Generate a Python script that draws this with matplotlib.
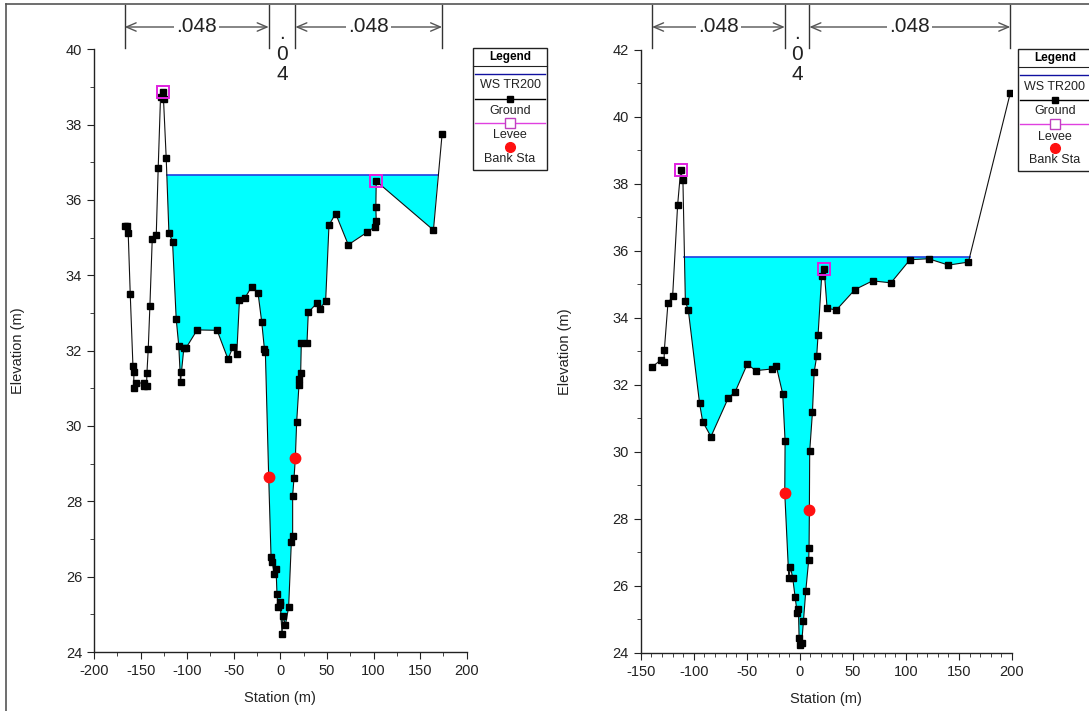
import matplotlib
matplotlib.use('Agg')
import matplotlib.pyplot as plt
import numpy as np
from matplotlib.lines import Line2D
from matplotlib.patches import Rectangle
from matplotlib.transforms import blended_transform_factory
from matplotlib.ticker import MultipleLocator

plt.rcParams['font.family'] = ['Liberation Sans', 'DejaVu Sans']
plt.rcParams['axes.unicode_minus'] = False

# ---- left cross section
left_sta = [-167.1, -164.3, -163.3, -161.1, -158.2, -157.1, -157.5, -154.6, -146.4, -146.4,
            -143.6, -143.2, -141.8, -140.0, -137.5, -133.2, -131.1, -128.6, -126.1, -125.4,
            -122.5, -119.6, -115.7, -111.8, -109.0, -107.1, -106.1, -103.6, -101.5, -89.3,
            -67.9, -56.1, -50.8, -46.8, -43.9, -38.2, -30.7, -23.9, -20.0, -17.1,
            -16.1, -12.5, -10.0, -8.9, -6.4, -4.6, -3.6, -2.5, -0.7, 0.0,
            1.8, 2.9, 5.4, 8.9, 11.8, 13.2, 13.2, 14.7, 16.1, 17.5,
            20.0, 20.4, 21.8, 22.5, 28.6, 30.0, 39.3, 42.1, 48.6, 52.2,
            59.3, 72.9, 92.9, 101.4, 102.9, 102.5, 102.9, 164.3, 173.6]
left_elev = [35.31, 35.31, 35.13, 33.50, 31.59, 31.44, 31.00, 31.13, 31.15, 31.07,
             31.07, 31.40, 32.04, 33.19, 34.96, 35.06, 36.85, 38.74, 38.87, 38.67,
             37.11, 35.13, 34.89, 32.85, 32.12, 31.18, 31.44, 32.06, 32.06, 32.55,
             32.54, 31.77, 32.11, 31.90, 33.34, 33.39, 33.70, 33.52, 32.76, 32.04,
             31.97, 28.64, 26.53, 26.40, 26.07, 26.20, 25.53, 25.19, 25.34, 25.24,
             24.48, 24.96, 24.71, 25.19, 26.92, 27.09, 28.15, 28.63, 29.15, 30.10,
             31.09, 31.24, 31.40, 32.21, 32.21, 33.02, 33.26, 33.11, 33.31, 35.33,
             35.64, 34.81, 35.14, 35.29, 35.45, 35.81, 36.50, 35.20, 37.75]
left_ws = 36.66
left_ws_sta = [-121.8, 169.0]
left_levee_sta = [-126.1, 102.9]
left_levee_elev = [38.87, 36.50]
left_bank_sta = [-12.5, 16.1]
left_bank_elev = [28.64, 29.15]

# ---- right cross section
right_sta = [-139.3, -130.9, -128.0, -127.7, -124.3, -119.9, -115.2, -112.3, -110.2, -107.9,
             -105.1, -94.5, -91.6, -83.8, -67.5, -60.9, -49.6, -41.5, -26.1, -22.3,
             -16.1, -13.9, -14.2, -10.4, -8.8, -6.7, -4.4, -2.5, -1.3, -0.7,
             -0.1, 1.8, 3.4, 5.6, 8.4, 8.7, 9.0, 9.3, 11.9, 13.5,
             15.9, 17.2, 20.6, 22.9, 25.7, 34.4, 52.0, 68.6, 85.9, 103.8,
             121.3, 140.1, 158.9, 198.4]
right_elev = [32.53, 32.74, 32.69, 33.04, 34.44, 34.64, 37.36, 38.41, 38.10, 34.49,
              34.22, 31.44, 30.90, 30.45, 31.60, 31.79, 32.61, 32.42, 32.47, 32.57,
              31.72, 30.32, 28.76, 26.23, 26.55, 26.23, 25.65, 25.19, 25.29, 24.44,
              24.23, 24.30, 24.94, 25.84, 26.78, 27.13, 28.27, 30.01, 31.18, 32.37,
              32.85, 33.49, 35.25, 35.45, 34.28, 34.23, 34.84, 35.10, 35.04, 35.73,
              35.76, 35.57, 35.66, 40.71]
right_ws = 35.81
right_ws_sta = [-108.8, 160.1]
right_levee_sta = [-112.3, 22.9]
right_levee_elev = [38.41, 35.45]
right_bank_sta = [-14.2, 9.0]
right_bank_elev = [28.76, 28.27]

n_values = ['.048', '.04', '.048']
legend_labels = ['WS TR200', 'Ground', 'Levee', 'Bank Sta']

W, H = 1089, 711
fig = plt.figure(figsize=(W / 100, H / 100), dpi=100)


def fx(px):
    return px / W


def fy(py):
    return 1 - py / H


def draw_panel(rect, sta, elev, ws, ws_sta, lev_s, lev_e, bank_s, bank_e, xlim, ylim, xminor):
    ax = fig.add_axes(rect)
    sta = np.array(sta)
    elev = np.array(elev)
    # water polygon
    m = (sta > ws_sta[0]) & (sta < ws_sta[1])
    px = np.concatenate([[ws_sta[0]], sta[m], [ws_sta[1]]])
    py = np.concatenate([[ws], np.minimum(elev[m], ws), [ws]])
    ax.fill(px, py, color='#00ffff', lw=0, zorder=1)
    ax.plot(ws_sta, [ws, ws], color='#1e3ee0', lw=1.2, zorder=2)
    ax.plot(sta, elev, color='#111111', lw=0.8, marker='s', ms=4.5, mfc='black', mec='black', zorder=3)
    ax.plot(lev_s, lev_e, ls='none', marker='s', ms=8, mfc='none', mec='#e020e0', mew=1.4, zorder=4)
    ax.plot(bank_s, bank_e, ls='none', marker='o', ms=7.5, color='#ff1010', zorder=5)

    ax.set_xlim(*xlim)
    ax.set_ylim(*ylim)
    ax.xaxis.set_major_locator(MultipleLocator(50))
    ax.xaxis.set_minor_locator(MultipleLocator(xminor))
    ax.yaxis.set_major_locator(MultipleLocator(2))
    ax.yaxis.set_minor_locator(MultipleLocator(1))
    for s in ['top', 'right']:
        ax.spines[s].set_visible(False)
    for s in ['left', 'bottom']:
        ax.spines[s].set_color('#222222')
        ax.spines[s].set_linewidth(1.0)
    ax.tick_params(which='major', direction='out', length=5, color='#222222', labelsize=10.5,
                   labelcolor='#222222')
    ax.tick_params(which='minor', direction='out', length=3, color='#222222')
    ax.set_xlabel('Station (m)', fontsize=10.5, color='#222222')
    ax.set_ylabel('Elevation (m)', fontsize=10.5, color='#222222')
    ax.xaxis.set_label_coords(0.5, -0.065)
    ax.yaxis.set_label_coords(-0.185, 0.5)

    # n-value bars on top
    tr = blended_transform_factory(ax.transData, fig.transFigure)
    bounds = [sta[0], bank_s[0], bank_s[1], sta[-1]]
    for b in bounds:
        ax.add_line(Line2D([b, b], [fy(5), fy(48)], transform=tr, color='#333333', lw=1.0, clip_on=False))
    for i, lab in enumerate(n_values):
        mid = (bounds[i] + bounds[i + 1]) / 2
        if i == 1:
            ax.text(mid, fy(54), '.\n0\n4', transform=tr, ha='center', va='center', fontsize=15,
                    linespacing=1.08, color='#222222')
        else:
            ax.annotate('', xy=(bounds[i], fy(27)), xytext=(bounds[i + 1], fy(27)),
                        xycoords=tr, textcoords=tr,
                        arrowprops=dict(arrowstyle='<->,head_length=0.7,head_width=0.3',
                                        color='#555555', lw=1.0, shrinkA=0, shrinkB=0))
            ax.text(mid, fy(27), lab, transform=tr, ha='center', va='center', fontsize=15,
                    color='#222222', bbox=dict(facecolor='white', edgecolor='none', pad=1.5))
    return ax


draw_panel([fx(94), fy(652), fx(466.7) - fx(94), fy(49.3) - fy(652)],
           left_sta, left_elev, left_ws, left_ws_sta, left_levee_sta, left_levee_elev,
           left_bank_sta, left_bank_elev, (-200, 200), (24, 40), 25)
draw_panel([fx(640.7), fy(652.7), fx(1012) - fx(640.7), fy(49.7) - fy(652.7)],
           right_sta, right_elev, right_ws, right_ws_sta, right_levee_sta, right_levee_elev,
           right_bank_sta, right_bank_elev, (-150, 200), (24, 42), 10)


def draw_legend(x0, y0):
    w, h = 74, 122
    fig.add_artist(Rectangle((fx(x0), fy(y0 + h)), w / W, h / H, transform=fig.transFigure,
                             facecolor='white', edgecolor='#222222', lw=1.0))
    cx = fx(x0 + w / 2)
    fig.add_artist(Line2D([fx(x0), fx(x0 + w)], [fy(y0 + 18), fy(y0 + 18)], color='#222222', lw=0.8))
    fig.text(cx, fy(y0 + 9), 'Legend', ha='center', va='center', fontsize=8.5, fontweight='bold')
    fig.add_artist(Line2D([fx(x0 + 2), fx(x0 + w - 2)], [fy(y0 + 26)] * 2, color='#1010a0', lw=1.0))
    fig.add_artist(Line2D([fx(x0 + 2), fx(x0 + w - 2)], [fy(y0 + 51)] * 2, color='black', lw=1.0))
    fig.add_artist(Line2D([cx], [fy(y0 + 51)], marker='s', ms=4.5, color='black'))
    fig.add_artist(Line2D([fx(x0 + 2), fx(x0 + w - 2)], [fy(y0 + 75)] * 2, color='#e040e0', lw=1.0))
    fig.add_artist(Line2D([cx], [fy(y0 + 75)], marker='s', ms=7, mfc='white', mec='#c040c0', mew=1.0))
    fig.add_artist(Line2D([cx], [fy(y0 + 99)], marker='o', ms=7, color='#ff1010'))
    for lab, dy in zip(legend_labels, [37.5, 62.5, 87.5, 111]):
        fig.text(cx, fy(y0 + dy), lab, ha='center', va='center', fontsize=9, color='#222222')


draw_legend(473, 48)
draw_legend(1018, 49)

# frame lines of the screenshot
fig.add_artist(Line2D([fx(6), 1], [fy(4), fy(4)], color='#555555', lw=1.2))
fig.add_artist(Line2D([fx(6), fx(6)], [fy(4), 0], color='#555555', lw=1.2))

fig.savefig('out.png', dpi=100)
